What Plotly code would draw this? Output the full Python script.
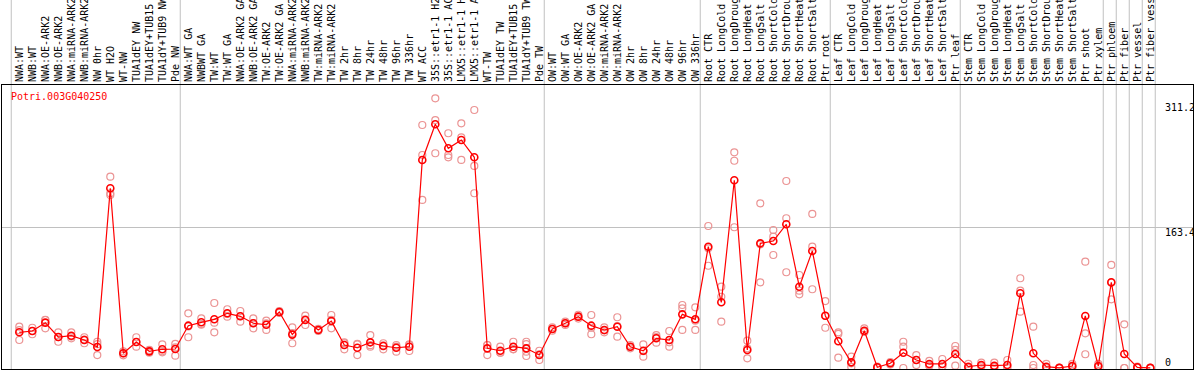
import plotly.graph_objects as go

gene = "Potri.003G040250"

labels = [
    "NWA:WT", "NWB:WT", "NWA:OE-ARK2", "NWB:OE-ARK2", "NWA:miRNA-ARK2", "NWB:miRNA-ARK2",
    "NW 0hr", "WT H2O", "WT-NW", "TUA1dEY NW", "TUA1dEY+TUB15", "TUA1dY+TUB9 NW", "Pde NW",
    "NWA:WT GA", "NWBWT GA", "TW:WT", "TW:WT GA", "NWA:OE-ARK2 GA", "NWB:OE-ARK2 GA",
    "TW:OE-ARK2", "TW:OE-ARK2 GA", "NWA:miRNA-ARK2", "NWB:miRNA-ARK2", "TW:miRNA-ARK2",
    "TW:miRNA-ARK2", "TW 2hr", "TW 8hr", "TW 24hr", "TW 48hr", "TW 96hr", "TW 336hr",
    "WT ACC", "35S::etr1-1 H2O", "35S::etr1-1 ACC", "LMX5::etr1-1 H2O", "LMX5::etr1-1 ACC",
    "WT-TW", "TUA1dEY TW", "TUA1dEY+TUB15", "TUA1dY+TUB9 TW", "Pde TW",
    "OW:WT", "OW:WT GA", "OW:OE-ARK2", "OW:OE-ARK2 GA", "OW:miRNA-ARK2", "OW:miRNA-ARK2",
    "OW 2hr", "OW 8hr", "OW 24hr", "OW 48hr", "OW 96hr", "OW 336hr",
    "Root CTR", "Root LongCold", "Root LongDrought", "Root LongHeat", "Root LongSalt",
    "Root ShortCold", "Root ShortDrought", "Root ShortHeat", "Root ShortSalt", "Ptr root",
    "Leaf CTR", "Leaf LongCold", "Leaf LongDrought", "Leaf LongHeat", "Leaf LongSalt",
    "Leaf ShortCold", "Leaf ShortDrought", "Leaf ShortHeat", "Leaf ShortSalt", "Ptr leaf",
    "Stem CTR", "Stem LongCold", "Stem LongDrought", "Stem LongHeat", "Stem LongSalt",
    "Stem ShortCold", "Stem ShortDrought", "Stem ShortHeat", "Stem ShortSalt", "Ptr shoot",
    "Ptr xylem", "Ptr phloem", "Ptr fiber", "Ptr vessel", "Ptr fiber vessel",
]

group_sizes = [13, 28, 12, 10, 10, 11, 1, 1, 1, 1]

means = [
    41.6, 43.1, 52.8, 36.1, 37.6, 32.6, 24.5, 209.3, 17.1, 30.3, 19.4, 21.8, 22.1,
    49.3, 53.2, 56.7, 63.7, 60.2, 52.1, 50.4, 65.2, 38.9, 55.9, 44.3, 54.7, 26.8, 23.6,
    29.9, 25.6, 23.6, 24.8, 242.3, 283.8, 255.9, 265.6, 245.4, 22.9, 20.1, 24.8, 22.9, 15.1,
    45.4, 52.1, 59.8, 49.3, 44.3, 48.1, 24.8, 20.1, 34.6, 32.6, 62.5, 56.7,
    141.3, 76.5, 218.6, 21.0, 145.2, 147.9, 167.4, 94.7, 136.3, 60.9,
    31.1, 6.6, 43.4, 0.8, 5.5, 17.8, 9.3, 4.7, 4.7, 16.3,
    1.5, 3.5, 2.7, 3.5, 87.0, 17.1, 1.5, 0.2, 2.3, 60.6, 2.3,
    99.8, 16.3, 0.8, 0.2,
]

replicates = [
    [48.1, 44.1, 32.6], [46.9, 43.1, 39.3], [55.9, 56.0, 46.2], [41.6, 36.0, 30.6],
    [41.6, 36.6, 34.6], [35.8, 33.2, 28.8], [30.6, 27.8, 15.1], [222.8, 203.5, 201.6],
    [14.8, 17.1, 19.4], [35.8, 30.3, 24.8], [21.0, 19.4, 17.9], [27.6, 19.5, 18.3],
    [28.0, 24.0, 14.3],
    [63.7, 48.4, 35.8], [57.9, 51.2, 50.5], [75.7, 52.8, 41.6], [68.4, 63.0, 59.8],
    [66.4, 60.3, 53.9], [57.9, 52.2, 46.2], [55.1, 51.9, 44.3], [66.4, 64.1, 65.2],
    [47.2, 40.7, 28.8], [60.9, 56.7, 50.1], [45.5, 44.3, 43.1], [61.7, 56.2, 46.2],
    [28.8, 29.8, 21.8], [27.6, 28.2, 15.1], [38.4, 26.6, 24.8], [28.8, 26.3, 21.8],
    [26.8, 25.0, 19.0], [27.6, 27.0, 19.8], [283.0, 248.1, 195.7], [314.1, 288.8, 250.1],
    [273.4, 248.1, 245.4], [285.0, 268.7, 242.3], [300.5, 235.3, 203.5], [26.8, 26.8, 15.1],
    [24.8, 17.8, 17.8], [30.6, 22.0, 21.8], [30.6, 27.9, 19.0, 14.0], [20.1, 16.0, 9.3],
    [47.4, 45.4, 43.4], [54.0, 52.1, 50.2], [62.0, 59.8, 57.6], [61.7, 46.9, 39.3],
    [47.4, 43.9, 41.6], [59.1, 48.7, 36.5], [26.8, 24.7, 22.9], [27.6, 19.5, 13.2],
    [38.4, 35.9, 29.5], [43.1, 29.9, 24.8], [73.4, 69.5, 44.3], [70.7, 55.1, 44.3],
    [165.4, 139.4, 119.1], [94.7, 83.0, 53.9], [251.2, 241.4, 163.9], [31.8, 22.9, 11.3],
    [191.8, 144.0, 99.8], [160.7, 152.9, 131.6], [217.8, 174.4, 111.5], [108.3, 90.0, 85.8],
    [179.4, 141.3, 91.7], [78.0, 60.6, 46.9],
    [41.6, 39.7, 12.0], [13.2, 5.5, 1.2], [46.2, 42.1, 41.9], [0.0, 0.8, 1.6], [4.0, 5.5, 7.0],
    [30.6, 24.8, 0.0], [15.1, 9.3, 3.5], [8.2, 3.2, 2.7], [10.5, 2.0, 1.6], [25.6, 21.0, 2.7],
    [4.7, 0.0, 0.0], [6.2, 2.5, 1.8], [6.2, 1.0, 1.0], [9.3, 1.0, 0.2], [104.5, 90.0, 65.6],
    [48.1, 3.5, 0.0], [4.7, 0.0, 0.0], [0.3, 0.2, 0.1], [4.7, 1.2, 1.0], [123.8, 40.4, 16.0],
    [4.7, 1.2, 1.0],
    [120.0, 99.4, 80.0], [50.9, 0.0, 0.0], [1.5, 0.5, 0.4], [0.3, 0.2, 0.1],
]

y_labels = [311.2, 163.4, 0]
y_label_shift = [-7, -4.5, 6]

x_idx = list(range(len(labels)))
rep_x = [i for i, reps in enumerate(replicates) for _ in reps]
rep_y = [v for reps in replicates for v in reps]

fig = go.Figure()
fig.add_trace(go.Scatter(
    x=rep_x, y=rep_y, mode="markers",
    marker=dict(symbol="circle-open", size=7, color="#eb9494", line=dict(width=1.2, color="#eb9494")),
    hoverinfo="skip", showlegend=False,
))
fig.add_trace(go.Scatter(
    x=x_idx, y=means, mode="lines+markers",
    line=dict(color="#ff0000", width=1.2),
    marker=dict(symbol="circle-open", size=7, color="#ff0000", line=dict(width=1.6, color="#ff0000")),
    showlegend=False,
))

# group separators
seps = [-1]
acc = -1
for g in group_sizes:
    acc += g
    seps.append(acc)
for s in seps:
    fig.add_shape(type="line", xref="x", yref="paper", x0=s + 0.38, x1=s + 0.38,
                  y0=0, y1=1.31, line=dict(color="#c0c0c0", width=1), layer="below")

mono = "DejaVu Sans Mono"
fig.add_annotation(text=gene, xref="paper", yref="paper", x=0.006, y=0.959,
                   xanchor="left", yanchor="middle", showarrow=False,
                   font=dict(family=mono, size=10, color="#ff0000"))
for v, sh in zip(y_labels, y_label_shift):
    fig.add_annotation(text=f"{v:g}", xref="paper", yref="y", x=0.975, y=v,
                       xanchor="left", yanchor="middle", yshift=sh, showarrow=False,
                       font=dict(family=mono, size=10, color="#000000"))

fig.update_layout(
    width=1194, height=370,
    margin=dict(l=2, r=1, t=85, b=1, autoexpand=False),
    paper_bgcolor="white", plot_bgcolor="white",
    xaxis=dict(range=[-1.331, 90.285], side="top", tickmode="array", tickvals=x_idx,
               ticktext=labels, tickangle=-90, ticks="", showgrid=False, zeroline=False,
               showline=True, mirror=True, linecolor="black", linewidth=1, automargin=False,
               tickfont=dict(family=mono, size=10, color="black")),
    yaxis=dict(range=[-1.165, 329.6], tickmode="array", tickvals=[163.4], showticklabels=False,
               ticks="", showgrid=True, gridcolor="#c0c0c0", gridwidth=1, zeroline=False,
               showline=True, mirror=True, linecolor="black", linewidth=1, automargin=False),
)

fig.write_html("out.html", config={"displayModeBar": False},
               post_script="document.body.style.margin='0';document.body.style.overflow='hidden';")
